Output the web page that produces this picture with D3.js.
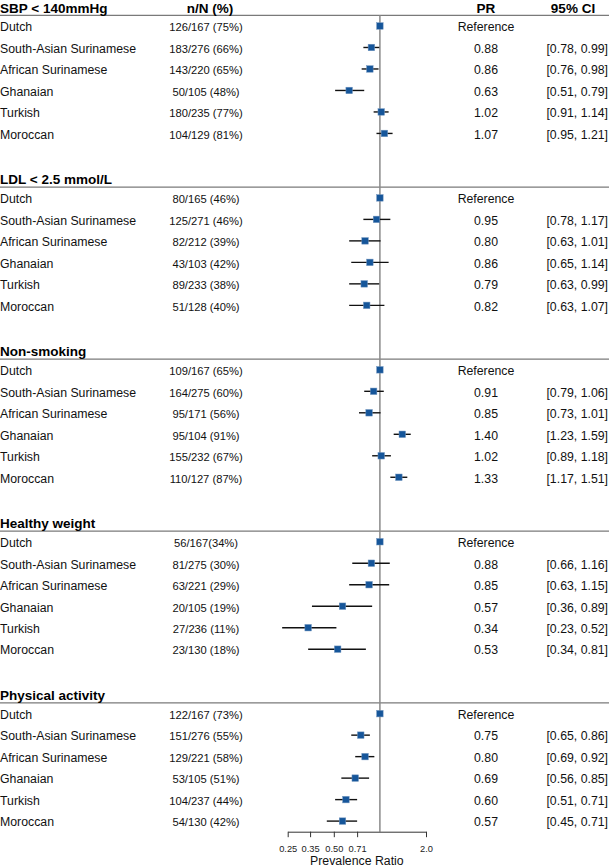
<!DOCTYPE html>
<html>
<head>
<meta charset="utf-8">
<script src="https://cdn.jsdelivr.net/npm/d3@7"></script>
<style>
  body { margin: 0; background: #fff; }
  text { font-family: "Liberation Sans", Arial, sans-serif; }
</style>
</head>
<body>
<svg id="chart"></svg>
<script>
const width = 609;
const height = 867;

// data
const outcomes = ["SBP < 140mmHg", "LDL < 2.5 mmol/L", "Non-smoking", "Healthy weight", "Physical activity"];
const groups = ["Dutch", "South-Asian Surinamese", "African Surinamese", "Ghanaian", "Turkish", "Moroccan"];

const counts = [
    ["126/167 (75%)", "183/276 (66%)", "143/220 (65%)", "50/105 (48%)", "180/235 (77%)", "104/129 (81%)"],
    ["80/165 (46%)", "125/271 (46%)", "82/212 (39%)", "43/103 (42%)", "89/233 (38%)", "51/128 (40%)"],
    ["109/167 (65%)", "164/275 (60%)", "95/171 (56%)", "95/104 (91%)", "155/232 (67%)", "110/127 (87%)"],
    ["56/167(34%)", "81/275 (30%)", "63/221 (29%)", "20/105 (19%)", "27/236 (11%)", "23/130 (18%)"],
    ["122/167 (73%)", "151/276 (55%)", "129/221 (58%)", "53/105 (51%)", "104/237 (44%)", "54/130 (42%)"]
];

// first entry is the reference group (Dutch)
const pr = [
    [1, 0.88, 0.86, 0.63, 1.02, 1.07],
    [1, 0.95, 0.80, 0.86, 0.79, 0.82],
    [1, 0.91, 0.85, 1.40, 1.02, 1.33],
    [1, 0.88, 0.85, 0.57, 0.34, 0.53],
    [1, 0.75, 0.80, 0.69, 0.60, 0.57]
];
const ciLow = [
    [null, 0.78, 0.76, 0.51, 0.91, 0.95],
    [null, 0.78, 0.63, 0.65, 0.63, 0.63],
    [null, 0.79, 0.73, 1.23, 0.89, 1.17],
    [null, 0.66, 0.63, 0.36, 0.23, 0.34],
    [null, 0.65, 0.69, 0.56, 0.51, 0.45]
];
const ciHigh = [
    [null, 0.99, 0.98, 0.79, 1.14, 1.21],
    [null, 1.17, 1.01, 1.14, 0.99, 1.07],
    [null, 1.06, 1.01, 1.59, 1.18, 1.51],
    [null, 1.16, 1.15, 0.89, 0.52, 0.81],
    [null, 0.86, 0.92, 0.85, 0.71, 0.71]
];

const axisTicks = [0.25, 0.35, 0.50, 0.71, 2.0];
const axisTickLabels = ["0.25", "0.35", "0.50", "0.71", "2.0"];

const fmt = d3.format(".2f");

const svg = d3.select("#chart")
    .attr("width", width)
    .attr("height", height);

// each outcome uses 8 rows: header + 6 groups + blank
const rowsPerBlock = groups.length + 2;
const lastRow = (outcomes.length - 1) * rowsPerBlock + groups.length;
const y = d3.scaleLinear().domain([0, lastRow]).range([4.5, 821.1]);
const x = d3.scaleLog().domain([0.25, 2]).range([287.7, 426]);

const axisY = 831.7;
const colCount = 206;
const colPR = 486;
const colCI = 608;

const blocks = outcomes.map((name, i) => ({
    name: name,
    row: i * rowsPerBlock,
    items: groups.map((g, j) => ({
        group: g,
        count: counts[i][j],
        pr: pr[i][j],
        lo: ciLow[i][j],
        hi: ciHigh[i][j],
        row: i * rowsPerBlock + j + 1
    }))
}));

const rows = blocks.flatMap(b => b.items);

// header lines
svg.append("g")
    .selectAll("line")
    .data(blocks)
    .join("line")
    .attr("x1", 0)
    .attr("x2", width)
    .attr("y1", d => y(d.row) + 10.8)
    .attr("y2", d => y(d.row) + 10.8)
    .attr("stroke", "#7a7a7a")
    .attr("stroke-width", 1.2);

// block titles
svg.append("g")
    .selectAll("text")
    .data(blocks)
    .join("text")
    .attr("x", 0)
    .attr("y", d => y(d.row) + 8)
    .attr("font-size", 13.5)
    .attr("font-weight", "bold")
    .attr("fill", "#000")
    .text(d => d.name);

// column headers (only above first block)
const headers = [
    { label: "n/N (%)", x: 210 },
    { label: "PR", x: 486 },
    { label: "95% CI", x: 573 }
];
svg.append("g")
    .selectAll("text")
    .data(headers)
    .join("text")
    .attr("x", d => d.x)
    .attr("y", y(0) + 8)
    .attr("text-anchor", "middle")
    .attr("font-size", 13.5)
    .attr("font-weight", "bold")
    .text(d => d.label);

// reference line at PR = 1
svg.append("line")
    .attr("x1", x(1))
    .attr("x2", x(1))
    .attr("y1", y(0) + 10.8)
    .attr("y2", axisY)
    .attr("stroke", "#8a8a8a")
    .attr("stroke-width", 1.5);

const row = svg.append("g")
    .selectAll("g")
    .data(rows)
    .join("g")
    .attr("transform", d => `translate(0,${y(d.row)})`);

row.append("text")
    .attr("x", 0)
    .attr("y", 5.3)
    .attr("font-size", 12.3)
    .attr("fill", "#111")
    .text(d => d.group);

row.append("text")
    .attr("x", colCount)
    .attr("y", 5.3)
    .attr("text-anchor", "middle")
    .attr("font-size", 11.2)
    .attr("fill", "#111")
    .text(d => d.count);

row.append("text")
    .attr("x", colPR)
    .attr("y", 5.3)
    .attr("text-anchor", "middle")
    .attr("font-size", 12.3)
    .attr("fill", "#111")
    .text(d => d.lo == null ? "Reference" : fmt(d.pr));

row.append("text")
    .attr("x", colCI)
    .attr("y", 5.3)
    .attr("text-anchor", "end")
    .attr("font-size", 12.3)
    .attr("fill", "#111")
    .text(d => d.lo == null ? "" : `[${fmt(d.lo)}, ${fmt(d.hi)}]`);

// confidence intervals
row.filter(d => d.lo != null)
    .append("line")
    .attr("x1", d => x(d.lo))
    .attr("x2", d => x(d.hi))
    .attr("y1", 0)
    .attr("y2", 0)
    .attr("stroke", "#111")
    .attr("stroke-width", 1.4);

// point estimates
const box = 6.5;
row.append("rect")
    .attr("x", d => x(d.pr) - box / 2)
    .attr("y", -box / 2)
    .attr("width", box)
    .attr("height", box)
    .attr("fill", "#16569a")
    .attr("stroke", "#6f93bd")
    .attr("stroke-width", 0.5);

// x axis
const axis = svg.append("g")
    .attr("transform", `translate(0,${axisY})`)
    .call(d3.axisBottom(x)
        .tickValues(axisTicks)
        .tickFormat((d, i) => axisTickLabels[i])
        .tickSize(5.5)
        .tickSizeOuter(0)
        .tickPadding(8.5));

axis.select(".domain").attr("stroke", "#333");
axis.selectAll(".tick line").attr("stroke", "#333");
axis.selectAll(".tick text")
    .attr("font-size", 9.3)
    .attr("fill", "#222")
    .attr("font-family", "Liberation Sans, Arial, sans-serif");

svg.append("text")
    .attr("x", (x.range()[0] + x.range()[1]) / 2)
    .attr("y", 865)
    .attr("text-anchor", "middle")
    .attr("font-size", 12.3)
    .attr("fill", "#111")
    .text("Prevalence Ratio");
</script>
</body>
</html>
